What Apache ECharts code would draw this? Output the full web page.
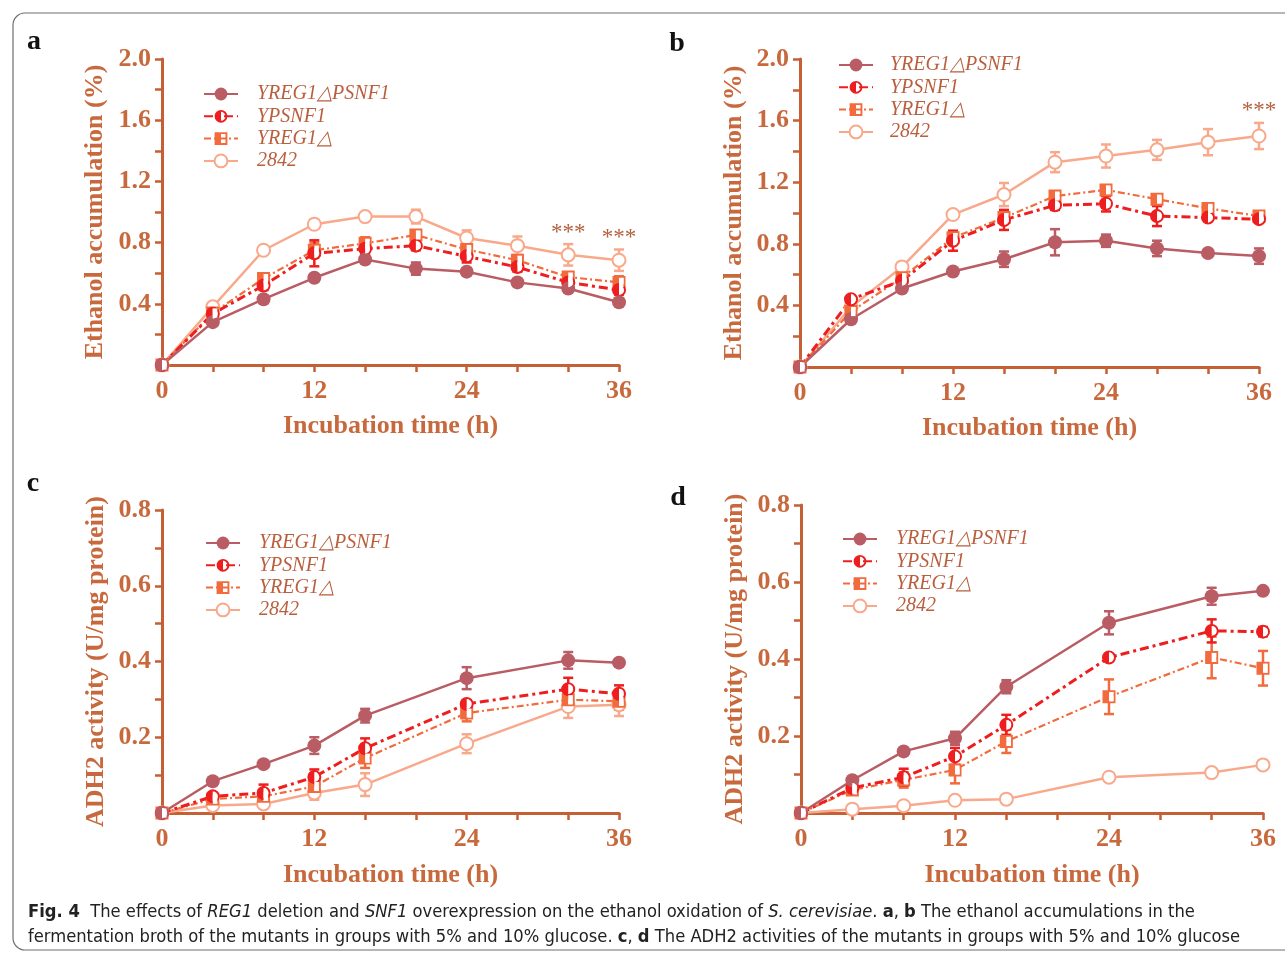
<!DOCTYPE html>
<html>
<head>
<meta charset="utf-8">
<title>Fig. 4</title>
<script src="https://cdn.jsdelivr.net/npm/echarts@6/dist/echarts.min.js"></script>
<style>
  html, body { margin: 0; padding: 0; background: #fff; }
  #main { width: 1285px; height: 955px; }
</style>
</head>
<body>
<div id="main"></div>
<script>
// time points (h)
var HOURS_AB = [0, 4, 8, 12, 16, 20, 24, 28, 32, 36];
var HOURS_CD = [0, 4, 8, 12, 16, 24, 32, 36];
var STRAINS = ["YREG1\u25B3PSNF1", "YPSNF1", "YREG1\u25B3", "2842"];

// a: ethanol accumulation (%), 5% glucose
var A_DP = [0, 0.28, 0.43, 0.57, 0.69, 0.63, 0.61, 0.54, 0.50, 0.41];
var A_DP_ERR = [0, 0.02, 0.02, 0.02, 0.02, 0.04, 0.02, 0.02, 0.02, 0.02];
var A_PS = [0, 0.335, 0.52, 0.73, 0.76, 0.78, 0.71, 0.64, 0.54, 0.49];
var A_PS_ERR = [0, 0.02, 0.03, 0.085, 0.04, 0.03, 0.04, 0.03, 0.02, 0.03];
var A_RD = [0, 0.34, 0.565, 0.75, 0.795, 0.85, 0.755, 0.685, 0.575, 0.54];
var A_RD_ERR = [0, 0.02, 0.03, 0.05, 0.04, 0.03, 0.03, 0.03, 0.03, 0.04];
var A_WT = [0, 0.38, 0.75, 0.92, 0.97, 0.97, 0.83, 0.78, 0.72, 0.685];
var A_WT_ERR = [0, 0.02, 0.02, 0.03, 0.02, 0.045, 0.05, 0.06, 0.07, 0.07];
var STARS_A = [[32, 0.865], [36, 0.83]];

// b: ethanol accumulation (%), 10% glucose
var B_DP = [0, 0.31, 0.51, 0.62, 0.70, 0.81, 0.82, 0.77, 0.74, 0.72];
var B_DP_ERR = [0, 0.02, 0.02, 0.02, 0.05, 0.085, 0.04, 0.05, 0.02, 0.05];
var B_PS = [0, 0.44, 0.56, 0.82, 0.955, 1.05, 1.06, 0.98, 0.97, 0.96];
var B_PS_ERR = [0, 0.02, 0.03, 0.065, 0.065, 0.03, 0.05, 0.065, 0.02, 0.02];
var B_RD = [0, 0.36, 0.58, 0.84, 0.97, 1.11, 1.15, 1.09, 1.03, 0.98];
var B_RD_ERR = [0, 0.02, 0.03, 0.04, 0.03, 0.03, 0.03, 0.03, 0.03, 0.02];
var B_WT = [0, 0.39, 0.65, 0.99, 1.12, 1.33, 1.37, 1.41, 1.46, 1.50];
var B_WT_ERR = [0, 0.02, 0.02, 0.02, 0.075, 0.065, 0.075, 0.065, 0.085, 0.085];
var STARS_B = [[36, 1.665]];

// c: ADH2 activity (U/mg protein), 5% glucose
var C_DP = [0, 0.084, 0.129, 0.178, 0.257, 0.356, 0.403, 0.397];
var C_DP_ERR = [0, 0.005, 0.005, 0.022, 0.018, 0.029, 0.022, 0.005];
var C_PS = [0, 0.044, 0.053, 0.095, 0.171, 0.288, 0.327, 0.315];
var C_PS_ERR = [0, 0.01, 0.022, 0.02, 0.026, 0.01, 0.03, 0.022];
var C_RD = [0, 0.037, 0.044, 0.07, 0.145, 0.264, 0.299, 0.295];
var C_RD_ERR = [0, 0.01, 0.015, 0.015, 0.026, 0.022, 0.022, 0.022];
var C_WT = [0, 0.02, 0.024, 0.053, 0.075, 0.183, 0.281, 0.286];
var C_WT_ERR = [0, 0.005, 0.008, 0.018, 0.03, 0.025, 0.03, 0.03];

// d: ADH2 activity (U/mg protein), 10% glucose
var D_DP = [0, 0.085, 0.16, 0.194, 0.328, 0.494, 0.563, 0.577];
var D_DP_ERR = [0, 0.005, 0.005, 0.017, 0.017, 0.03, 0.022, 0.005];
var D_PS = [0, 0.065, 0.093, 0.147, 0.229, 0.404, 0.473, 0.471];
var D_PS_ERR = [0, 0.01, 0.022, 0.022, 0.026, 0.005, 0.03, 0.012];
var D_RD = [0, 0.06, 0.086, 0.112, 0.186, 0.302, 0.404, 0.376];
var D_RD_ERR = [0, 0.01, 0.02, 0.035, 0.03, 0.045, 0.054, 0.045];
var D_WT = [0, 0.01, 0.019, 0.033, 0.036, 0.093, 0.105, 0.125];
var D_WT_ERR = [0, 0, 0, 0, 0, 0, 0, 0];

var AXIS_COLOR = "#c55f35";
var TEXT_COLOR = "#c8693d";
var LEGEND_COLOR = "#b95f3e";
var SERIF = "'Liberation Serif', 'Times New Roman', serif";
var SANS = "'DejaVu Sans Condensed', 'Noto Sans', sans-serif";

// half filled markers: ring + left half, the right half is a hole
var HALF_CIRCLE = "path://M10,0A10,10,0,1,1,10,20A10,10,0,1,1,10,0ZM10,3L10,17A7,7,0,0,0,10,3Z";
var HALF_CIRCLE_HOLE = "path://M0,0M20,20M10,3L10,17A7,7,0,0,0,10,3Z";
var HALF_SQUARE = "path://M0,0L20,0L20,20L0,20ZM10,3L10,17L17,17L17,3Z";
var HALF_SQUARE_HOLE = "path://M0,0M20,20M10,3L10,17L17,17L17,3Z";

var STYLE = [
  {color: "#b95c64", symbol: "circle", size: 14, type: "solid", width: 2.5},
  {color: "#ee1e1e", symbol: HALF_CIRCLE, hole: HALF_CIRCLE_HOLE, size: 14, type: [9, 4, 3, 4], width: 3},
  {color: "#f26b3d", symbol: HALF_SQUARE, hole: HALF_SQUARE_HOLE, size: 13, type: [7, 3, 2, 3], width: 2.2},
  {color: "#f9a98b", symbol: "emptyCircle", size: 13, type: "solid", width: 2.5}
];

var PANELS = [
  {grid: {left: 162, top: 59, width: 457, height: 306}, max: 2, step: 0.2, every: 4,
   name: "Ethanol accumulation (%)", hours: HOURS_AB,
   vals: [A_DP, A_PS, A_RD, A_WT], errs: [A_DP_ERR, A_PS_ERR, A_RD_ERR, A_WT_ERR],
   stars: STARS_A, legend: {left: 203, top: 84, pad: 14}, yGap: 54, xGap: 48},
  {grid: {left: 800, top: 59, width: 459, height: 308}, max: 2, step: 0.2, every: 4,
   name: "Ethanol accumulation (%)", hours: HOURS_AB,
   vals: [B_DP, B_PS, B_RD, B_WT], errs: [B_DP_ERR, B_PS_ERR, B_RD_ERR, B_WT_ERR],
   stars: STARS_B, legend: {left: 838, top: 55, pad: 12}, yGap: 53, xGap: 48},
  {grid: {left: 162, top: 510, width: 457, height: 303}, max: 0.8, step: 0.1, every: 2,
   name: "ADH2 activity (U/mg protein)", hours: HOURS_CD,
   vals: [C_DP, C_PS, C_RD, C_WT], errs: [C_DP_ERR, C_PS_ERR, C_RD_ERR, C_WT_ERR],
   stars: [], legend: {left: 205, top: 533, pad: 14}, yGap: 53, xGap: 49},
  {grid: {left: 801, top: 505, width: 462, height: 308}, max: 0.8, step: 0.1, every: 2,
   name: "ADH2 activity (U/mg protein)", hours: HOURS_CD,
   vals: [D_DP, D_PS, D_RD, D_WT], errs: [D_DP_ERR, D_PS_ERR, D_RD_ERR, D_WT_ERR],
   stars: [], legend: {left: 842, top: 529, pad: 14}, yGap: 53, xGap: 49}
];

var myChart = echarts.init(document.getElementById("main"));

/**
 * error bar with caps
 */
function errorBarItem(params, api) {
  var x = api.value(0), y = api.value(1), e = api.value(2);
  if (!e) return;
  var hi = api.coord([x, y + e]);
  var lo = api.coord([x, y - e]);
  var w = 5;
  var st = {stroke: api.visual("color"), lineWidth: 2.5};
  return {
    type: "group",
    children: [
      {type: "line", shape: {x1: hi[0], y1: hi[1], x2: lo[0], y2: lo[1]}, style: st},
      {type: "line", shape: {x1: hi[0] - w, y1: hi[1], x2: hi[0] + w, y2: hi[1]}, style: st},
      {type: "line", shape: {x1: lo[0] - w, y1: lo[1], x2: lo[0] + w, y2: lo[1]}, style: st}
    ]
  };
}

function axisFont(size) {
  return {color: TEXT_COLOR, fontFamily: SERIF, fontWeight: "bold", fontSize: size};
}

var option = {
  animation: false,
  grid: [], xAxis: [], yAxis: [], legend: [], series: [],
  graphic: []
};

PANELS.forEach(function(p, k) {
  option.grid.push(p.grid);
  option.xAxis.push({
    type: "value", gridIndex: k, min: 0, max: 36, interval: 4,
    name: "Incubation time (h)", nameLocation: "middle", nameGap: p.xGap,
    nameTextStyle: axisFont(26),
    splitLine: {show: false},
    axisLine: {lineStyle: {color: AXIS_COLOR, width: 3}},
    axisTick: {length: 7, lineStyle: {color: AXIS_COLOR, width: 2.5}},
    axisLabel: Object.assign(axisFont(26), {margin: 13, formatter: function(v) {
      return v % 12 === 0 ? String(v) : "";
    }})
  });
  option.yAxis.push({
    type: "value", gridIndex: k, min: 0, max: p.max, interval: p.step,
    name: p.name, nameLocation: "middle", nameGap: p.yGap,
    nameTextStyle: axisFont(26),
    splitLine: {show: false},
    axisLine: {show: true, lineStyle: {color: AXIS_COLOR, width: 3}},
    axisTick: {show: true, length: 7, lineStyle: {color: AXIS_COLOR, width: 2.5}},
    axisLabel: Object.assign(axisFont(26), {margin: 11, formatter: function(v) {
      var n = Math.round(v * 10);
      return (n > 0 && n % p.every === 0) ? (n / 10).toFixed(1) : "";
    }})
  });
  option.legend.push({
    data: STRAINS, orient: "vertical", left: p.legend.left, top: p.legend.top,
    padding: 0, itemWidth: 34, itemHeight: 16, itemGap: 2.3, selectedMode: false,
    textStyle: {color: LEGEND_COLOR, fontFamily: SERIF, fontStyle: "italic",
      fontSize: 20, lineHeight: 16, padding: [0, 0, 0, p.legend.pad]}
  });

  // error bars under the markers
  for (var s = 3; s >= 0; s--) {
    var st = STYLE[s];
    var bars = p.hours.map(function(h, i) { return [h, p.vals[s][i], p.errs[s][i]]; });
    option.series.push({
      type: "custom", xAxisIndex: k, yAxisIndex: k, z: 1, silent: true,
      renderItem: errorBarItem, itemStyle: {color: st.color},
      encode: {x: 0, y: 1}, data: bars
    });
  }
  // draw 2842 first, YREG1△PSNF1 last (on top)
  for (var s2 = 3; s2 >= 0; s2--) {
    var st2 = STYLE[s2];
    var pts = p.hours.map(function(h, i) { return [h, p.vals[s2][i]]; });
    var line = {
      type: "line", name: STRAINS[s2], xAxisIndex: k, yAxisIndex: k, z: 2,
      clip: false, data: pts, symbol: st2.symbol, symbolSize: st2.size,
      showAllSymbol: true,
      lineStyle: {color: st2.color, width: st2.width, type: st2.type},
      itemStyle: {color: st2.color, borderColor: st2.color,
        borderWidth: st2.symbol === "emptyCircle" ? 2 : 0}
    };
    if (s2 === 3 && p.stars.length) {
      line.markPoint = {
        symbol: "circle", symbolSize: 0, silent: true,
        data: p.stars.map(function(c) { return {coord: c}; }),
        label: {show: true, position: "inside", formatter: "***",
          color: "#b2603e", fontFamily: SERIF, fontSize: 23}
      };
    }
    option.series.push(line);
  }
  // white fill in the open half of the half-filled markers
  for (var s3 = 1; s3 <= 2; s3++) {
    var st3 = STYLE[s3];
    option.series.push({
      type: "line", name: "hole-" + k + "-" + s3, xAxisIndex: k, yAxisIndex: k, z: 3,
      clip: false, silent: true, symbol: st3.hole, symbolSize: st3.size,
      lineStyle: {width: 0, opacity: 0},
      itemStyle: {color: "#ffffff", borderWidth: 0},
      data: p.hours.map(function(h, i) { return [h, p.vals[s3][i]]; })
    });
  }
});

// frame, panel letters, caption
option.graphic = [
  {type: "rect", shape: {x: 13, y: 13, width: 1300, height: 937, r: 12},
   style: {fill: "none", stroke: "#6f6f6f", lineWidth: 1.2}},
  {type: "text", x: 34, y: 42, style: {text: "a", font: "bold 28px " + SERIF, fill: "#111", align: "center", verticalAlign: "middle"}},
  {type: "text", x: 677, y: 44, style: {text: "b", font: "bold 28px " + SERIF, fill: "#111", align: "center", verticalAlign: "middle"}},
  {type: "text", x: 33, y: 484, style: {text: "c", font: "bold 28px " + SERIF, fill: "#111", align: "center", verticalAlign: "middle"}},
  {type: "text", x: 678, y: 498, style: {text: "d", font: "bold 28px " + SERIF, fill: "#111", align: "center", verticalAlign: "middle"}},
  {type: "text", x: 28, y: 900, style: {
    text: "{b|Fig. 4}  The effects of {i|REG1} deletion and {i|SNF1} overexpression on the ethanol oxidation of {i|S. cerevisiae}. {b|a}, {b|b} The ethanol accumulations in the\n" +
          "fermentation broth of the mutants in groups with 5% and 10% glucose. {b|c}, {b|d} The ADH2 activities of the mutants in groups with 5% and 10% glucose",
    font: "18.2px " + SANS, fill: "#222", lineHeight: 25,
    rich: {
      b: {fontWeight: "bold", fontFamily: SANS, fontSize: 18.2, lineHeight: 25, fill: "#222"},
      i: {fontStyle: "italic", fontFamily: SANS, fontSize: 18.2, lineHeight: 25, fill: "#222"}
    }
  }}
];

myChart.setOption(option);
window.onresize = myChart.resize;
</script>
</body>
</html>
